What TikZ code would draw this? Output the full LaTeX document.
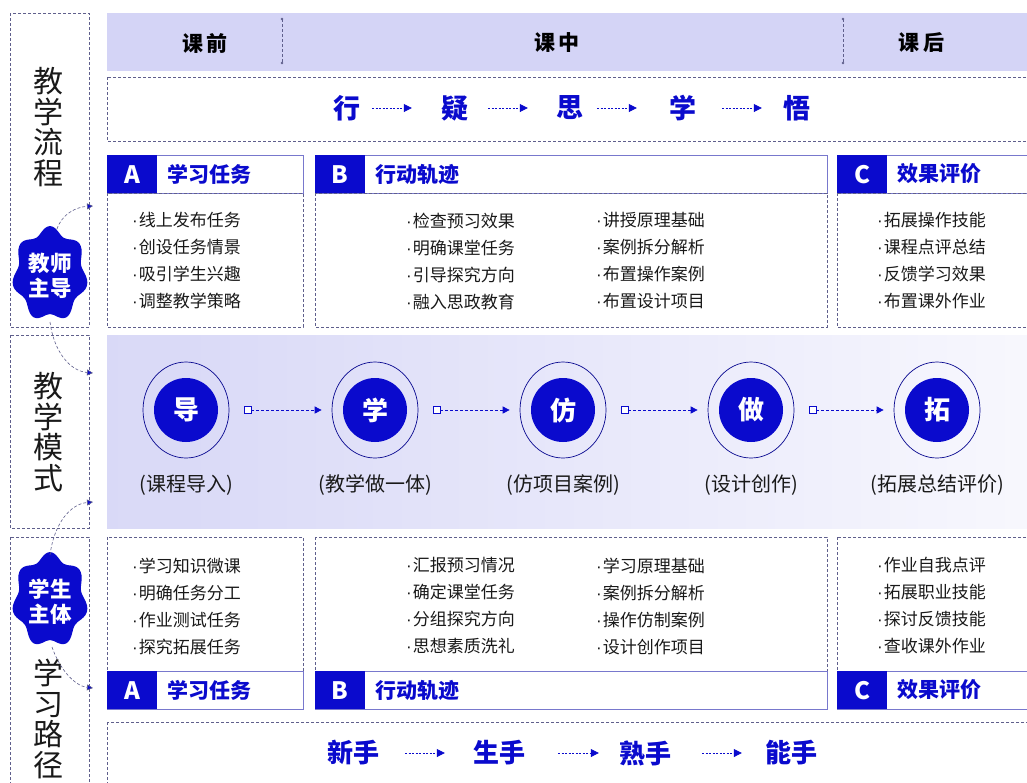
\documentclass[tikz,border=0pt]{standalone}
\usepackage{fontspec}
\setmainfont{Noto Sans CJK SC}
\newfontfamily\dotfont{Liberation Sans}
\newcommand\bdot{{\dotfont ·}\hspace{1pt}}
\usetikzlibrary{arrows.meta,shapes.geometric}
\definecolor{mblue}{RGB}{10,10,205}
\definecolor{band}{RGB}{212,212,246}
\definecolor{dashc}{RGB}{95,95,140}
\definecolor{hline}{RGB}{120,120,205}
\definecolor{txt}{RGB}{25,25,25}
\pgfdeclarehorizontalshading{bandshade}{100bp}{color(0bp)=(band); color(30bp)=(band!85!white); color(87bp)=(white); color(100bp)=(white)}
\tikzset{
  dbox/.style={draw=dashc, dash pattern=on 3pt off 2pt, line width=0.6pt},
  hbox/.style={draw=hline, line width=0.8pt, fill=white, minimum height=38pt, inner sep=0pt, anchor=north west},
  letterbox/.style={fill=mblue, text=white, font=\fontsize{24}{24}\selectfont\bfseries, minimum width=50pt, minimum height=38pt, inner sep=0pt, anchor=west},
  htitle/.style={text=mblue, font=\fontsize{21}{21}\selectfont\bfseries, anchor=west, inner sep=0pt},
  items/.style={text=txt, font=\fontsize{17}{27}\selectfont, align=left, anchor=west, inner sep=0pt},
  vlabel/.style={text=txt, font=\fontsize{30}{30.5}\selectfont, align=center, inner sep=0pt},
  coltitle/.style={text=black, font=\fontsize{21}{21}\selectfont\bfseries, inner sep=0pt},
  flow/.style={text=mblue, font=\fontsize{27}{27}\selectfont\bfseries, inner sep=0pt},
  path2/.style={text=mblue, font=\fontsize{26}{26}\selectfont\bfseries, inner sep=0pt},
  flowarrow/.style={draw=mblue, dash pattern=on 2pt off 1.5pt, line width=0.8pt, -{Triangle[length=8pt,width=8pt]}},
  modearrow/.style={draw=mblue, dash pattern=on 3pt off 2pt, line width=0.7pt, -{Triangle[length=7pt,width=7pt]}},
  sidearrow/.style={draw=dashc, dash pattern=on 3pt off 2pt, line width=0.6pt, -{Triangle[length=6pt,width=6pt,fill=mblue]}},
  ring/.style={draw=mblue!70!black, line width=0.7pt, ellipse, minimum width=86pt, minimum height=96pt, inner sep=0pt},
  core/.style={circle, fill=mblue, minimum size=64pt, inner sep=0pt, text=white, font=\fontsize{26}{26}\selectfont\bfseries},
  mlabel/.style={text=txt, font=\fontsize{20}{20}\selectfont, inner sep=0pt},
  sq/.style={draw=mblue, fill=white, minimum size=7pt, inner sep=0pt, line width=0.7pt},
  blobtext/.style={text=white, font=\fontsize{21.5}{25}\selectfont\bfseries, align=center, inner sep=0pt},
}
\begin{document}
\begin{tikzpicture}[x=1pt,y=-1pt]
\useasboundingbox (0,0) rectangle (1027,782);
\clip (0,0) rectangle (1027,782);
\fill[white] (0,0) rectangle (1027,782);

% left column dashed boxes
\draw[dbox] (10,13) rectangle (89,327);
\draw[dbox] (10,335) rectangle (89,528);
\draw[dbox] (10,537) rectangle (89,790);

% header band
\fill[band] (107,13) rectangle (1030,71);
\node[coltitle] (pre) at (205,43) {课\hspace{4pt}前};
\node[coltitle] (mid) at (557,43) {课\hspace{4pt}中};
\node[coltitle] (post) at (921,43) {课\hspace{4pt}后};
\foreach \sx/\nm in {282/sepa,843/sepb}{
  \coordinate (\nm t) at (\sx,19);
  \coordinate (\nm b) at (\sx,63);
  \draw[draw=dashc, dash pattern=on 3pt off 2pt, line width=0.6pt] (\nm t) -- (\nm b);
  \fill[dashc] (\nm t) circle (1.3pt) (\nm b) circle (1.3pt);
}

% row 2: teaching flow
\draw[dbox] (107,77) rectangle (1035,141);
\node[flow] (f1) at (347,108) {行};
\node[flow] (f2) at (455,108) {疑};
\node[flow] (f3) at (570,108) {思};
\node[flow] (f4) at (683,108) {学};
\node[flow] (f5) at (797,108) {悟};
\draw[flowarrow, shorten <=11.5pt, shorten >=29.5pt] (f1.east) -- (f2.west);
\draw[flowarrow, shorten <=19.5pt, shorten >=28.5pt] (f2.east) -- (f3.west);
\draw[flowarrow, shorten <=13.5pt, shorten >=32.5pt] (f3.east) -- (f4.west);
\draw[flowarrow, shorten <=25.5pt, shorten >=21.5pt] (f4.east) -- (f5.west);

% row 3: teacher headers
\node[hbox, minimum width=196pt] (hA) at (107,155) {};
\node[letterbox] (lA) at (hA.west) {A};
\node[htitle] (tA) at (167,174) {学习任务};
\node[hbox, minimum width=512pt] (hB) at (315,155) {};
\node[letterbox] (lB) at (hB.west) {B};
\node[htitle] (tB) at (375,174) {行动轨迹};
\node[hbox, minimum width=200pt] (hC) at (837,155) {};
\node[letterbox] (lC) at (hC.west) {C};
\node[htitle] (tC) at (897,174) {效果评价};

\draw[dbox] (107,193) rectangle (303,327);
\draw[dbox] (315,193) rectangle (827,327);
\draw[dbox] (837,193) rectangle (1035,327);

\node[items] (iA) at (132,261) {\bdot 线上发布任务\\\bdot 创设任务情景\\\bdot 吸引学生兴趣\\\bdot 调整教学策略};
\node[items] (iB1) at (406,261) {\bdot 检查预习效果\\\bdot 明确课堂任务\\\bdot 引导探究方向\\\bdot 融入思政教育};
\node[items] (iB2) at (596,261) {\bdot 讲授原理基础\\\bdot 案例拆分解析\\\bdot 布置操作案例\\\bdot 布置设计项目};
\node[items] (iC) at (877,261) {\bdot 拓展操作技能\\\bdot 课程点评总结\\\bdot 反馈学习效果\\\bdot 布置课外作业};

% middle band
\shade[shading=bandshade] (107,335) rectangle (1027,528);
\foreach \cx/\ch/\lab/\k in {186/导/(课程导入)/1, 375/学/(教学做一体)/2, 563/仿/(仿项目案例)/3, 751/做/(设计创作)/4, 937/拓/(拓展总结评价)/5}{
  \node[ring] (o\k) at (\cx,410) {};
  \node[core] (c\k) at (\cx,410) {\ch};
  \node[mlabel] (m\k) at (\cx,485) {\lab};
}
\foreach \a/\b in {1/2,2/3,3/4,4/5}{
  \node[sq] (s\a) at ([xshift=18pt]o\a.east) {};
  \draw[modearrow, shorten >=10pt] (s\a.east) -- (o\b.west);
}

% row 5: student boxes
\draw[dbox] (107,537) rectangle (303,671);
\draw[dbox] (315,537) rectangle (827,671);
\draw[dbox] (837,537) rectangle (1035,671);
\node[hbox, minimum width=196pt] (gA) at (107,671) {};
\node[letterbox] (kA) at (gA.west) {A};
\node[htitle] (uA) at (167,690) {学习任务};
\node[hbox, minimum width=512pt] (gB) at (315,671) {};
\node[letterbox] (kB) at (gB.west) {B};
\node[htitle] (uB) at (375,690) {行动轨迹};
\node[hbox, minimum width=200pt] (gC) at (837,671) {};
\node[letterbox] (kC) at (gC.west) {C};
\node[htitle] (uC) at (897,690) {效果评价};

\node[items] (jA) at (132,606) {\bdot 学习知识微课\\\bdot 明确任务分工\\\bdot 作业测试任务\\\bdot 探究拓展任务};
\node[items] (jB1) at (406,606) {\bdot 汇报预习情况\\\bdot 确定课堂任务\\\bdot 分组探究方向\\\bdot 思想素质洗礼};
\node[items] (jB2) at (596,606) {\bdot 学习原理基础\\\bdot 案例拆分解析\\\bdot 操作仿制案例\\\bdot 设计创作项目};
\node[items] (jC) at (877,606) {\bdot 作业自我点评\\\bdot 拓展职业技能\\\bdot 探讨反馈技能\\\bdot 查收课外作业};

% row 6: learning path
\draw[dbox] (107,722) rectangle (1035,800);
\node[path2] (p1) at (353,753) {新手};
\node[path2] (p2) at (499,753) {生手};
\node[path2] (p3) at (645,753) {熟手};
\node[path2] (p4) at (791,753) {能手};
\draw[flowarrow, shorten <=26pt, shorten >=28pt] (p1.east) -- (p2.west);
\draw[flowarrow, shorten <=33pt, shorten >=20pt] (p2.east) -- (p3.west);
\draw[flowarrow, shorten <=31pt, shorten >=23pt] (p3.east) -- (p4.west);

% left labels
\node[vlabel] (v1) at (48,127) {教\\学\\流\\程};
\node[vlabel] (v2) at (48,432) {教\\学\\模\\式};
\node[vlabel] (v3) at (48,719) {学\\习\\路\\径};

% blobs
\fill[mblue] plot[smooth cycle, samples=56, domain=0:353.57] ({50+35*(1+0.09*cos(7*(\x-90)))*cos(\x)}, {274-44*(1+0.09*cos(7*(\x-90)))*sin(\x)});
\node[blobtext] (teacher) at (50,276) {教师\\主导};
\fill[mblue] plot[smooth cycle, samples=56, domain=0:353.57] ({50+35*(1+0.09*cos(7*(\x-90)))*cos(\x)}, {600-44*(1+0.09*cos(7*(\x-90)))*sin(\x)});
\node[blobtext] (student) at (50,602) {学生\\主体};

\coordinate (tt) at (57,229);
\coordinate (tb) at (50,322);
\coordinate (st) at (50,555);
\coordinate (sb) at (52,647);
\coordinate (ea) at (93,206);
\coordinate (eb) at (93,373);
\coordinate (ec) at (93,502);
\coordinate (ed) at (93,688);
\draw[sidearrow] (tt) .. controls (62,214) and (76,207) .. (ea);
\draw[sidearrow] (tb) .. controls (54,352) and (70,371) .. (eb);
\draw[sidearrow] (st) .. controls (54,524) and (70,504) .. (ec);
\draw[sidearrow] (sb) .. controls (60,670) and (75,686) .. (ed);
\end{tikzpicture}
\end{document}
